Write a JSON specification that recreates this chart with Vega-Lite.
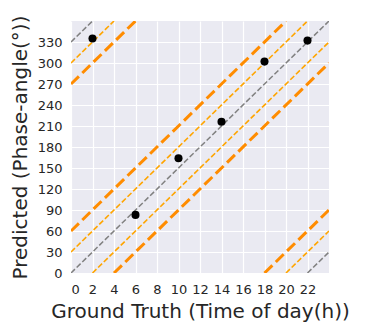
{
  "$schema": "https://vega.github.io/schema/vega-lite/v6.json",
  "autosize": "none",
  "width": 258,
  "height": 252,
  "padding": {"left": 71, "top": 21, "right": 37, "bottom": 58},
  "background": "white",
  "config": {
    "view": {"fill": "#EAEAF2", "stroke": null},
    "font": "DejaVu Sans",
    "axis": {
      "domain": false, "ticks": false, "tickSize": 0,
      "gridColor": "white", "gridWidth": 1.2, "gridOpacity": 1,
      "labelOverlap": false,
      "labelFont": "DejaVu Sans", "labelFontSize": 13, "labelColor": "#262626",
      "titleFont": "DejaVu Sans", "titleFontSize": 20, "titleFontWeight": "normal", "titleColor": "#262626"
    }
  },
  "datasets": {
    "lines": [
      {"line": "main", "kind": "gray", "x": 0, "y": 0},
      {"line": "main", "kind": "gray", "x": 24, "y": 360},
      {"line": "tl_gray", "kind": "gray", "x": 0, "y": 330},
      {"line": "tl_gray", "kind": "gray", "x": 2, "y": 360},
      {"line": "br_gray", "kind": "gray", "x": 22, "y": 0},
      {"line": "br_gray", "kind": "gray", "x": 24, "y": 30},
      {"line": "thin_up", "kind": "thin", "x": 0, "y": 30},
      {"line": "thin_up", "kind": "thin", "x": 22, "y": 360},
      {"line": "thin_low", "kind": "thin", "x": 2, "y": 0},
      {"line": "thin_low", "kind": "thin", "x": 24, "y": 330},
      {"line": "thin_tl", "kind": "thin", "x": 0, "y": 300},
      {"line": "thin_tl", "kind": "thin", "x": 4, "y": 360},
      {"line": "thin_br", "kind": "thin", "x": 20, "y": 0},
      {"line": "thin_br", "kind": "thin", "x": 24, "y": 60},
      {"line": "thick_up", "kind": "thick", "x": 0, "y": 60},
      {"line": "thick_up", "kind": "thick", "x": 20, "y": 360},
      {"line": "thick_low", "kind": "thick", "x": 4, "y": 0},
      {"line": "thick_low", "kind": "thick", "x": 24, "y": 300},
      {"line": "thick_tl", "kind": "thick", "x": 0, "y": 270},
      {"line": "thick_tl", "kind": "thick", "x": 6, "y": 360},
      {"line": "thick_br", "kind": "thick", "x": 18, "y": 0},
      {"line": "thick_br", "kind": "thick", "x": 24, "y": 90}
    ],
    "points": [
      {"x": 2, "y": 335},
      {"x": 6, "y": 83},
      {"x": 10, "y": 164},
      {"x": 14, "y": 216},
      {"x": 18, "y": 302},
      {"x": 22, "y": 332}
    ]
  },
  "encoding": {
    "x": {"field": "x", "type": "quantitative", "scale": {"domain": [0, 24], "nice": false, "zero": false},
          "axis": {"values": [0,2,4,6,8,10,12,14,16,18,20,22], "labelOverlap": false, "title": "Ground Truth (Time of day(h))", "labelPadding": 10, "titlePadding": 5}},
    "y": {"field": "y", "type": "quantitative", "scale": {"domain": [0, 360], "nice": false, "zero": false},
          "axis": {"values": [0,30,60,90,120,150,180,210,240,270,300,330], "labelOverlap": false, "title": "Predicted (Phase-angle(°))", "labelPadding": 9, "titlePadding": 7}}
  },
  "layer": [
    {
      "data": {"name": "lines"},
      "transform": [{"filter": "datum.kind === 'gray'"}],
      "mark": {"type": "line", "color": "#808080", "strokeWidth": 1.5, "strokeDash": [5.5, 2.4], "clip": true},
      "encoding": {"detail": {"field": "line"}}
    },
    {
      "data": {"name": "lines"},
      "transform": [{"filter": "datum.kind === 'thin'"}],
      "mark": {"type": "line", "color": "#FFA500", "strokeWidth": 1.6, "strokeDash": [5.5, 2.4], "clip": true},
      "encoding": {"detail": {"field": "line"}}
    },
    {
      "data": {"name": "lines"},
      "transform": [{"filter": "datum.kind === 'thick'"}],
      "mark": {"type": "line", "color": "#FF8C00", "strokeWidth": 3, "strokeDash": [11, 4.8], "clip": true},
      "encoding": {"detail": {"field": "line"}}
    },
    {
      "data": {"name": "points"},
      "mark": {"type": "point", "filled": true, "color": "black", "size": 65, "opacity": 1},
      "encoding": {}
    }
  ]
}
